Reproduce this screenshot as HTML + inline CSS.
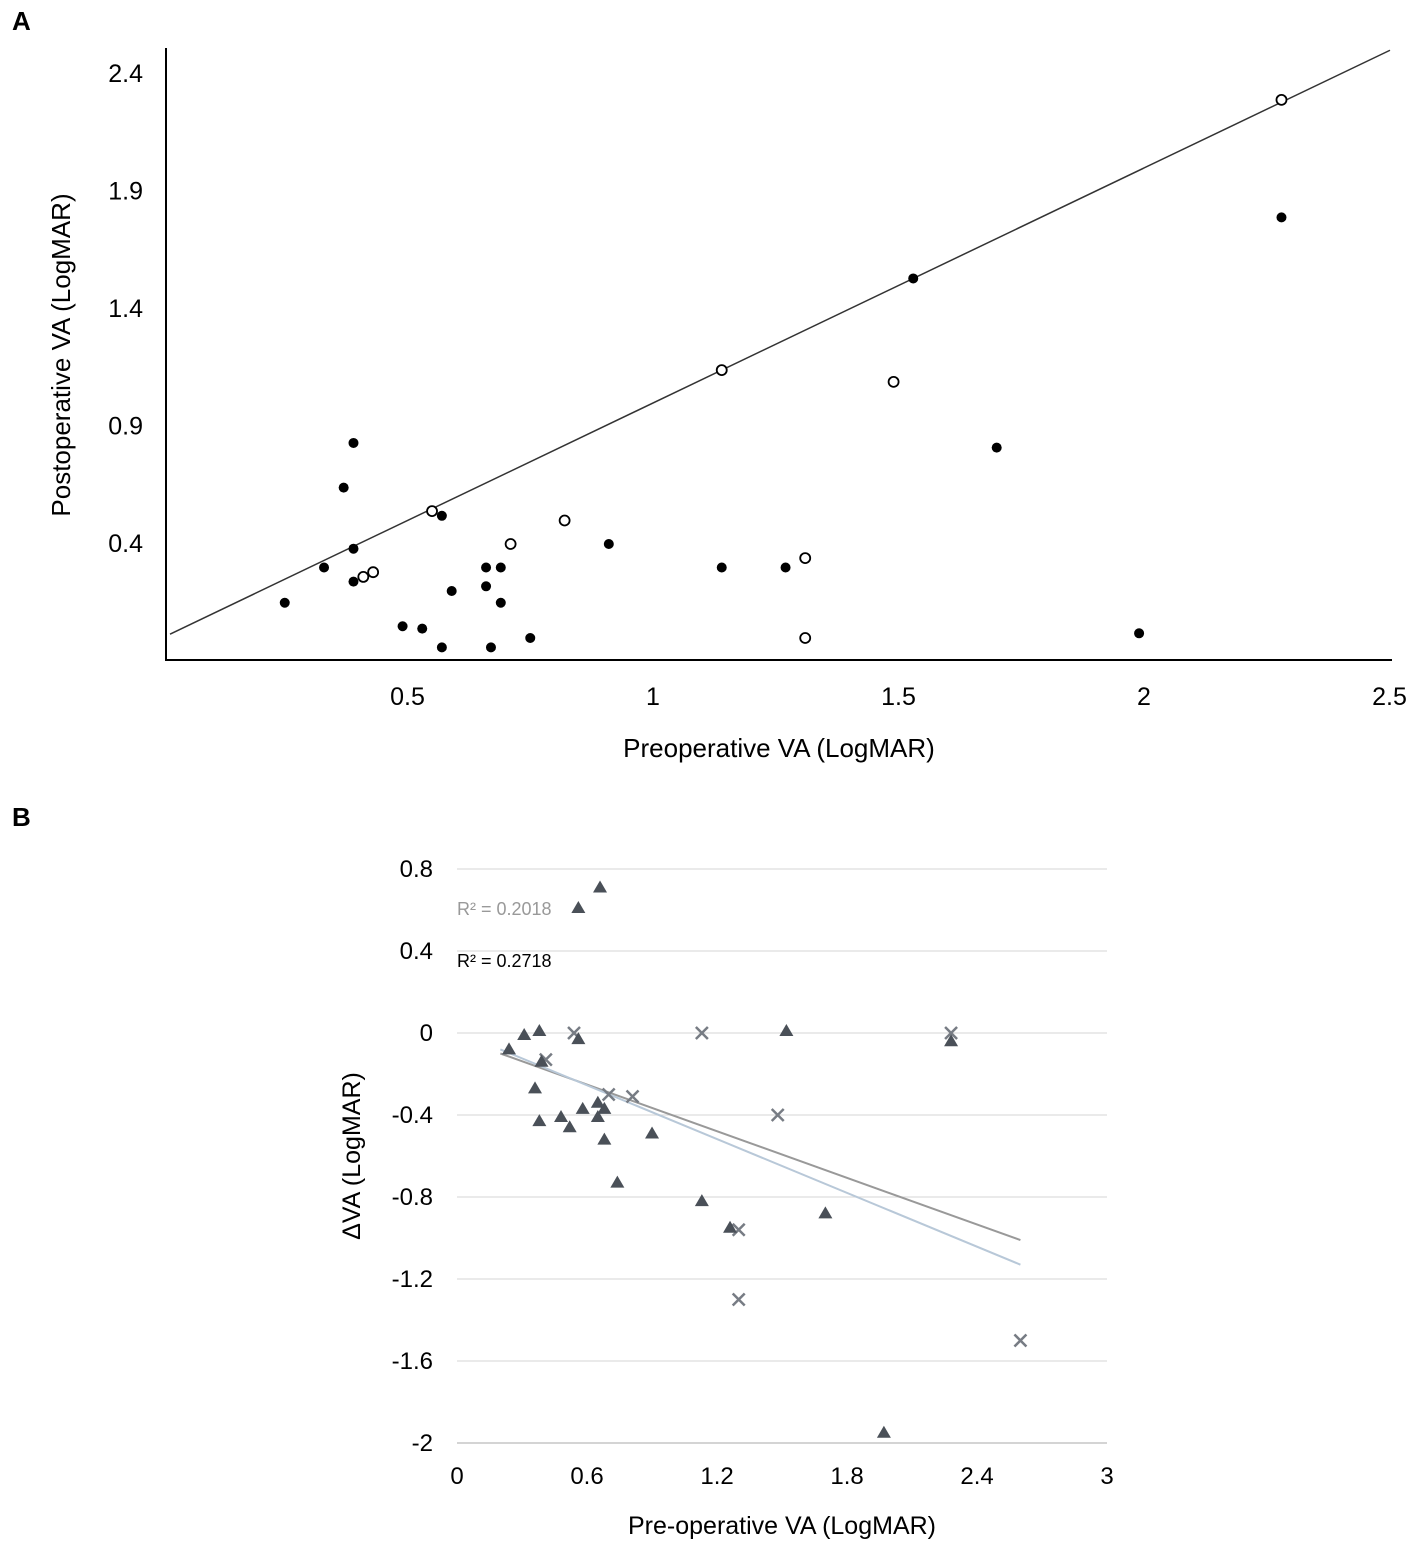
<!DOCTYPE html>
<html><head><meta charset="utf-8"><style>
body{margin:0;background:#fff;}
svg{display:block;font-family:"Liberation Sans",Arial,sans-serif;}
</style></head><body>
<svg id="c" width="1418" height="1554">
<text x="12" y="30" font-size="26" font-weight="bold">A</text>
<text x="12" y="826" font-size="26" font-weight="bold">B</text>
<g id="ga"></g>
<g id="gb"></g>
</svg>
<script>
// Chart A data
const aFilledX=[0.25,0.33,0.39,0.37,0.39,0.39,0.49,0.53,0.57,0.57,0.59,0.66,0.66,0.67,0.69,0.69,0.75,0.91,1.14,1.27,1.53,1.70,1.99,2.28];
const aFilledY=[0.15,0.30,0.83,0.64,0.38,0.24,0.05,0.04,0.52,-0.04,0.20,0.30,0.22,-0.04,0.30,0.15,0.00,0.40,0.30,0.30,1.53,0.81,0.02,1.79];
const aOpenX=[0.55,0.41,0.43,0.71,0.82,1.14,1.49,1.31,1.31,2.28];
const aOpenY=[0.54,0.26,0.28,0.40,0.50,1.14,1.09,0.34,0.00,2.29];
const aXTicks=[0.5,1,1.5,2,2.5];
const aYTicks=[0.4,0.9,1.4,1.9,2.4];
// Chart B data
const bTriX=[0.24,0.31,0.38,0.36,0.38,0.39,0.48,0.52,0.56,0.56,0.58,0.65,0.65,0.66,0.68,0.68,0.74,0.90,1.13,1.26,1.52,1.70,1.97,2.28];
const bTriY=[-0.08,-0.01,0.01,-0.27,-0.43,-0.14,-0.41,-0.46,0.61,-0.03,-0.37,-0.34,-0.41,0.71,-0.37,-0.52,-0.73,-0.49,-0.82,-0.95,0.01,-0.88,-1.95,-0.04];
const bCrossX=[0.54,0.41,0.70,0.81,1.13,1.48,1.30,1.30,2.28,2.60];
const bCrossY=[0,-0.13,-0.30,-0.31,0,-0.40,-0.96,-1.30,0,-1.50];
const bTrend1=[0.2,-0.10,2.6,-1.01];
const bTrend2=[0.2,-0.08,2.6,-1.13];
const bXTicks=[0,0.6,1.2,1.8,2.4,3];
const bYTicks=[0.8,0.4,0,-0.4,-0.8,-1.2,-1.6,-2];
const bXLabels=["0","0.6","1.2","1.8","2.4","3"];
const bYLabels=["0.8","0.4","0","-0.4","-0.8","-1.2","-1.6","-2"];
const NS="http://www.w3.org/2000/svg";
function mk(p,t,a){const e=document.createElementNS(NS,t);for(const k in a)e.setAttribute(k,a[k]);p.appendChild(e);return e;}
// A
const ga=document.getElementById('ga');
const ax=v=>162+491*v, ay=v=>638-235*v;
let l=mk(ga,'line',{x1:166,y1:48,x2:166,y2:661,stroke:'#000','stroke-width':2});

l=mk(ga,'line',{x1:165,y1:660,x2:1392,y2:660,stroke:'#000','stroke-width':2});

l=mk(ga,'line',{x1:170,y1:ay((170-162)/491),x2:1390,y2:ay((1390-162)/491),stroke:'#333','stroke-width':1.5});

aXTicks.forEach(v=>{const t=mk(ga,'text',{x:ax(v),y:705,'font-size':25,'text-anchor':'middle'});t.textContent=v;
});
aYTicks.forEach(v=>{const t=mk(ga,'text',{x:143,y:ay(v)+8,'font-size':25,'text-anchor':'end'});t.textContent=v.toFixed(1);
});
let t=mk(ga,'text',{x:779,y:757,'font-size':26,'text-anchor':'middle'});t.textContent='Preoperative VA (LogMAR)';

t=mk(ga,'text',{x:70,y:355,'font-size':26,'text-anchor':'middle',transform:'rotate(-90 70 355)'});t.textContent='Postoperative VA (LogMAR)';

aFilledX.forEach((v,i)=>{const c=mk(ga,'circle',{cx:ax(v),cy:ay(aFilledY[i]),r:5,fill:'#000'});
});
aOpenX.forEach((v,i)=>{const c=mk(ga,'circle',{cx:ax(v),cy:ay(aOpenY[i]),r:5,fill:'#fff',stroke:'#000','stroke-width':1.8});
});
// B
const gb=document.getElementById('gb');
const bx=v=>457+216.7*v, by=v=>1033-205*v;
bYTicks.forEach((v,i)=>{const g=mk(gb,'line',{x1:457,y1:by(v),x2:1107,y2:by(v),stroke:i==bYTicks.length-1?'#bbb':'#ddd','stroke-width':1.2});

const tt=mk(gb,'text',{x:433,y:by(v)+8,'font-size':24,'text-anchor':'end'});tt.textContent=bYLabels[i];
});
bXTicks.forEach((v,i)=>{const tt=mk(gb,'text',{x:bx(v),y:1484,'font-size':24,'text-anchor':'middle'});tt.textContent=bXLabels[i];
});
t=mk(gb,'text',{x:782,y:1534,'font-size':25,'text-anchor':'middle'});t.textContent='Pre-operative VA (LogMAR)';

t=mk(gb,'text',{x:360,y:1156,'font-size':25,'text-anchor':'middle',transform:'rotate(-90 360 1156)'});t.textContent='ΔVA (LogMAR)';

t=mk(gb,'text',{x:457,y:915,'font-size':18,fill:'#999'});t.textContent='R² = 0.2018';

t=mk(gb,'text',{x:457,y:967,'font-size':18,fill:'#000'});t.textContent='R² = 0.2718';

l=mk(gb,'line',{x1:bx(bTrend1[0]),y1:by(bTrend1[1]),x2:bx(bTrend1[2]),y2:by(bTrend1[3]),stroke:'#999','stroke-width':2});

l=mk(gb,'line',{x1:bx(bTrend2[0]),y1:by(bTrend2[1]),x2:bx(bTrend2[2]),y2:by(bTrend2[3]),stroke:'#b8c8d8','stroke-width':2});

bCrossX.forEach((v,i)=>{const x=bx(v),y=by(bCrossY[i]),s=6;
const p=mk(gb,'path',{d:`M${x-s},${y-s}L${x+s},${y+s}M${x-s},${y+s}L${x+s},${y-s}`,stroke:'#777c84','stroke-width':2.5});
});
bTriX.forEach((v,i)=>{const x=bx(v),y=by(bTriY[i]);
const p=mk(gb,'path',{d:`M${x},${y-7}L${x+7},${y+5}L${x-7},${y+5}Z`,fill:'#4a5058'});
});
</script>
</body></html>
